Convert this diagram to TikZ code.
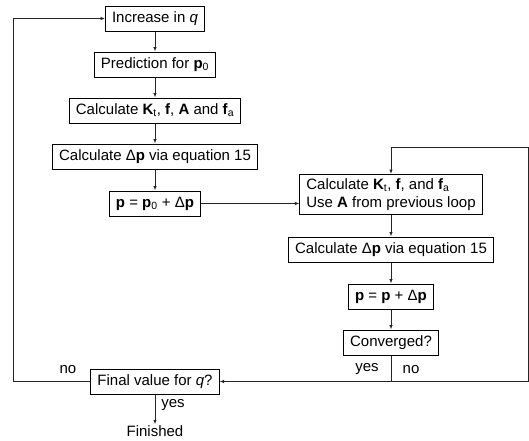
\documentclass[tikz,border=0pt]{standalone}
\usepackage{fontspec}
\setmainfont{Liberation Sans}
\usetikzlibrary{arrows.meta}
\begin{document}
\begin{tikzpicture}[x=1pt,y=-1pt,
  box/.style={draw, line width=1pt, minimum height=25pt, inner xsep=6.5pt, inner ysep=2pt, font=\fontsize{15}{18}\selectfont},
  lbl/.style={font=\fontsize{15}{18}\selectfont, inner sep=1pt},
  conn/.style={line width=0.8pt, draw=black!85, -{Latex[length=4.5pt,width=3.5pt]}},
  plain/.style={line width=0.8pt, draw=black!85}]
\useasboundingbox (0,0) rectangle (529,440);
% left column
\node[box] (inc) at (155,18.5) {Increase in \textit{q}};
\node[box] (pred) at (155,64.5) {Prediction for \textbf{p}\textsubscript{0}};
\node[box] (calck) at (155,110.5) {Calculate \textbf{K}\textsubscript{t}, \textbf{f}, \textbf{A} and \textbf{f}\textsubscript{a}};
\node[box] (calcdp) at (155,156.5) {Calculate Δ\textbf{p} via equation 15};
\node[box] (peq) at (155,203.5) {\textbf{p} = \textbf{p}\textsubscript{0} + Δ\textbf{p}};
% right column
\node[box, align=left, inner ysep=4pt] (rk) at (391,194.5) {Calculate \textbf{K}\textsubscript{t}, \textbf{f}, and \textbf{f}\textsubscript{a}\\Use \textbf{A} from previous loop};
\node[box] (rdp) at (391,249.5) {Calculate Δ\textbf{p} via equation 15};
\node[box] (rpeq) at (391,296.5) {\textbf{p} = \textbf{p} + Δ\textbf{p}};
\node[box] (conv) at (391,342.5) {Converged?};
% bottom
\node[box] (fin) at (155,381.5) {Final value for \textit{q}?};
\node[lbl] (done) at (155,431) {Finished};
% labels
\node[lbl] (nol) at (68,370) {no};
\node[lbl] (yesb) at (173,405) {yes};
\node[lbl] (yesr) at (367,369) {yes};
\node[lbl] (nor) at (411,370) {no};
% coordinates
\coordinate (j) at (391,381.5);
\coordinate (re) at (528.4,381.5);
\coordinate (rt) at (528.4,147);
\coordinate (lb) at (13,381.5);
\coordinate (lt) at (13,18.5);
% connectors
\draw[conn] (inc) -- (pred);
\draw[conn] (pred) -- (calck);
\draw[conn] (calck) -- (calcdp);
\draw[conn] (calcdp) -- (peq);
\draw[conn] (peq.east) -- (peq.east -| rk.west);
\draw[conn] (rk) -- (rdp);
\draw[conn] (rdp) -- (rpeq);
\draw[conn] (rpeq) -- (conv);
\draw[plain] (conv.south) -- (j);
\draw[conn] (j) -- (fin.east);
\draw[conn] (j) -- (re) -- (rt) -- (rt -| rk.north) -- (rk.north);
\draw[conn] (fin.west) -- (lb) -- (lt) -- (inc.west);
\draw[conn] (fin.south) -- (done.north);
\end{tikzpicture}
\end{document}
